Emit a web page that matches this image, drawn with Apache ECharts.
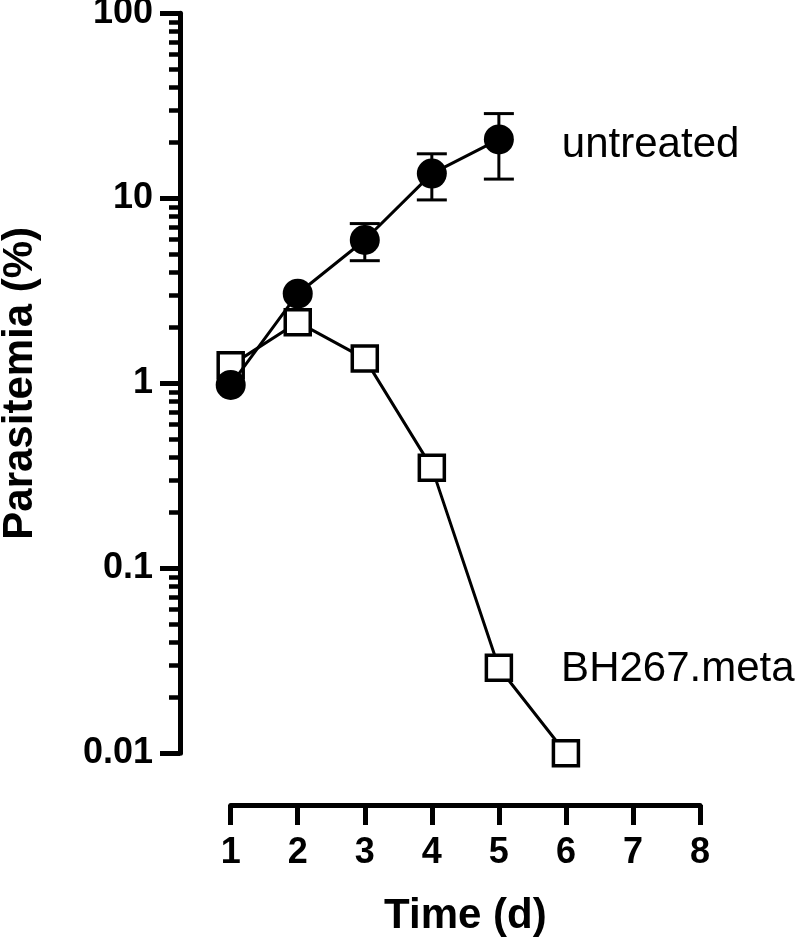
<!DOCTYPE html>
<html><head><meta charset="utf-8">
<script src="https://cdn.jsdelivr.net/npm/echarts@6/dist/echarts.min.js"></script>
<style>html,body{margin:0;padding:0;background:#fff}#c{width:800px;height:949px}</style>
</head><body><div id="c"></div>
<script>
// ---- data ----
const seriesNames = ['untreated', 'BH267.meta'];
const untreatedDays = [1, 2, 3, 4, 5];
const untreatedMean = [0.98, 3.05, 5.95, 13.6, 20.8];
const untreatedUpper = [null, null, 7.3, 17.4, 28.7];
const untreatedLower = [null, null, 4.6, 9.8, 12.7];
const bhDays = [1, 2, 3, 4, 5, 6];
const bhMean = [1.25, 2.14, 1.36, 0.35, 0.029, 0.01];
const xTicks = [1, 2, 3, 4, 5, 6, 7, 8];
const yTicks = [0.01, 0.1, 1, 10, 100];
const minorMultipliers = [2, 3, 4, 5, 6, 7, 8, 9];
const labelDay = 5;

const FONT = '"Liberation Sans", Arial, Helvetica, sans-serif';

const yMinorTicks = [];
yTicks.slice(0, -1).forEach(dec => minorMultipliers.forEach(m => yMinorTicks.push(+(dec * m).toPrecision(6))));

function endLabel(text, dy) {
  return { show: true, position: 'right', distance: 48, offset: [0, dy], formatter: text,
    color: '#000', fontFamily: FONT, fontSize: 42, fontWeight: 'normal' };
}

const untreatedData = untreatedDays.map((d, i) => {
  const item = { value: [d, untreatedMean[i]] };
  if (d === labelDay) item.label = endLabel(seriesNames[0], 6);
  return item;
});
const bhData = bhDays.map((d, i) => {
  const item = { value: [d, bhMean[i]] };
  if (d === labelDay) item.label = endLabel(seriesNames[1], 2);
  return item;
});
const errData = [];
untreatedDays.forEach((d, i) => {
  if (untreatedUpper[i] != null) errData.push([d, untreatedLower[i], untreatedUpper[i]]);
});

const chart = echarts.init(document.getElementById('c'), null, { renderer: 'canvas' });
chart.setOption({
  animation: false,
  backgroundColor: '#fff',
  grid: { left: 230.7, right: 100, top: 13.3, bottom: 195.7, containLabel: false, outerBoundsMode: 'none' },
  xAxis: {
    type: 'value', min: xTicks[0], max: xTicks[xTicks.length - 1], interval: 1,
    offset: 51.7,
    name: 'Time (d)', nameLocation: 'middle', nameGap: 90,
    nameTextStyle: { color: '#000', fontFamily: FONT, fontSize: 42, fontWeight: 'bold' },
    axisLine: { show: true, lineStyle: { color: '#000', width: 5 } },
    axisTick: { show: true, length: 20, lineStyle: { color: '#000', width: 5 } },
    axisLabel: { color: '#000', fontFamily: FONT, fontSize: 36, fontWeight: 'bold', margin: 30 },
    splitLine: { show: false }
  },
  yAxis: [{
    type: 'log', logBase: 10, min: yTicks[0], max: yTicks[yTicks.length - 1],
    offset: 50.7,
    name: 'Parasitemia (%)', nameLocation: 'middle', nameGap: 139,
    nameTextStyle: { color: '#000', fontFamily: FONT, fontSize: 42, fontWeight: 'bold' },
    axisLine: { show: true, lineStyle: { color: '#000', width: 5 } },
    axisTick: { show: true, length: 20, customValues: yTicks, lineStyle: { color: '#000', width: 5 } },
    minorTick: { show: false },
    axisLabel: {
      color: '#000', fontFamily: FONT, fontSize: 36, fontWeight: 'bold', margin: 27,
      customValues: yTicks,
      formatter: v => {
        const t = yTicks.find(t => Math.abs(Math.log10(t) - Math.log10(v)) < 1e-6);
        return t !== undefined ? String(t) : '';
      }
    },
    splitLine: { show: false }
  }, {
    type: 'log', logBase: 10, min: yTicks[0], max: yTicks[yTicks.length - 1],
    position: 'left', offset: 50.7,
    axisLine: { show: false },
    axisTick: { show: true, length: 11, customValues: yMinorTicks, lineStyle: { color: '#000', width: 4.5 } },
    axisLabel: { show: false },
    splitLine: { show: false }
  }],
  series: [
    {
      name: seriesNames[1], type: 'line', data: bhData, z: 2,
      symbol: 'rect', symbolSize: 25,
      lineStyle: { color: '#000', width: 3 },
      itemStyle: { color: '#fff', borderColor: '#000', borderWidth: 3.5 }
    },
    {
      name: 'err', type: 'custom', data: errData, z: 3,
      renderItem: (params, api) => {
        const x = api.value(0);
        const pLo = api.coord([x, api.value(1)]);
        const pHi = api.coord([x, api.value(2)]);
        const w = 15;
        const st = { stroke: '#000', lineWidth: 3 };
        return { type: 'group', children: [
          { type: 'line', shape: { x1: pHi[0], y1: pHi[1], x2: pLo[0], y2: pLo[1] }, style: st },
          { type: 'line', shape: { x1: pHi[0] - w, y1: pHi[1], x2: pHi[0] + w, y2: pHi[1] }, style: st },
          { type: 'line', shape: { x1: pLo[0] - w, y1: pLo[1], x2: pLo[0] + w, y2: pLo[1] }, style: st }
        ]};
      }
    },
    {
      name: seriesNames[0], type: 'line', data: untreatedData, z: 4,
      symbol: 'circle', symbolSize: 30,
      lineStyle: { color: '#000', width: 3 },
      itemStyle: { color: '#000', borderColor: '#000', borderWidth: 0 }
    }
  ]
});
</script>
</body></html>
